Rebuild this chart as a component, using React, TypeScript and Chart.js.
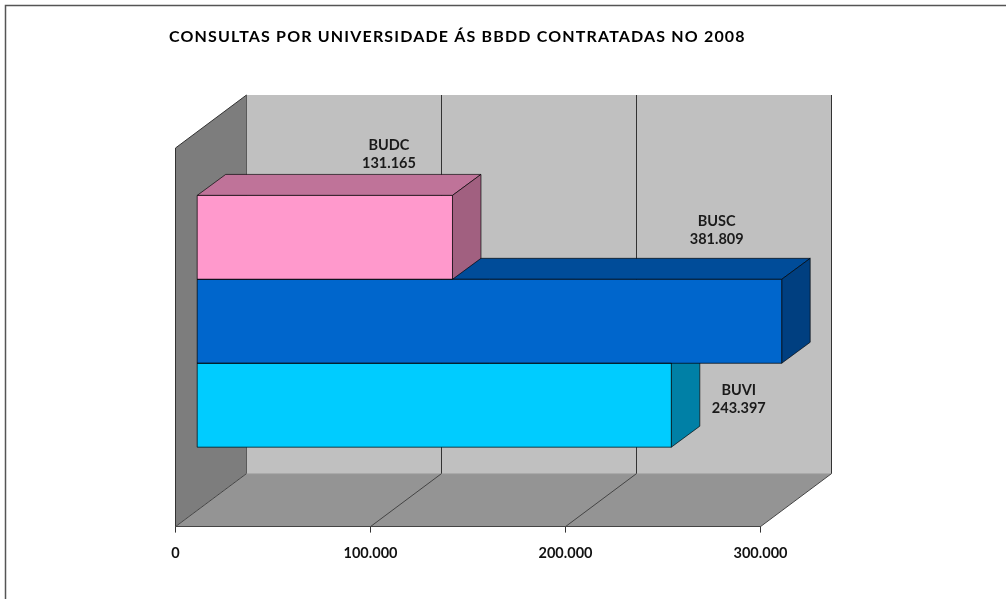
import React, { useEffect, useRef } from "react";
import { Chart, registerables } from "chart.js";

Chart.register(...registerables);

const titleText = "CONSULTAS POR UNIVERSIDADE ÁS BBDD CONTRATADAS NO 2008";
const categories = ["2008"];
const seriesNames = ["BUDC", "BUSC", "BUVI"];
const seriesValues = [131165, 381809, 243397];
const frontColors = ["#ff99cc", "#0066cc", "#00ccff"];
const topColors = ["#bf7399", "#004c99", "#0099bf"];
const sideColors = ["#a16080", "#003f80", "#0080a6"];
const labelOffsets = [
  [-63.5, -83],
  [-65, -90.5],
  [67.5, -6],
];

const FONT = "Lato, 'Open Sans', sans-serif";
const wallDepth = [71, -53];
const barShift = [21.2, -16];
const barDepth = [28.5, -21];

const fmt = (v: number) => String(v).replace(/\B(?=(\d{3})+(?!\d))/g, ".");

function poly(ctx: CanvasRenderingContext2D, pts: number[][], fill?: string, stroke?: string, lw = 1) {
  ctx.beginPath();
  pts.forEach((p, i) => (i ? ctx.lineTo(p[0], p[1]) : ctx.moveTo(p[0], p[1])));
  if (fill) {
    ctx.closePath();
    ctx.fillStyle = fill;
    ctx.fill();
  }
  if (stroke) {
    ctx.strokeStyle = stroke;
    ctx.lineWidth = lw;
    ctx.stroke();
  }
}

const scenePlugin = {
  id: "scene3d",
  afterLayout(chart: any) {
    const block = chart.titleBlock;
    block.left = 169;
    if (!block.__wrapped) {
      const original = block.draw.bind(block);
      block.draw = () => {
        (chart.ctx as any).letterSpacing = "1.17px";
        original();
        (chart.ctx as any).letterSpacing = "0px";
      };
      block.__wrapped = true;
    }
  },
  beforeDraw(chart: any) {
    const { ctx, chartArea: a, scales } = chart;
    const x = scales.x;
    const [dx, dy] = wallDepth;
    ctx.save();
    ctx.fillStyle = "#fff";
    ctx.fillRect(0, 0, chart.width, chart.height);
    poly(ctx, [[5.5, chart.height], [5.5, 5.5], [chart.width, 5.5]], undefined, "#555", 1.5);
    const L = a.left, R = a.right, T = a.top, B = a.bottom;
    poly(ctx, [[L + dx, T + dy], [R + dx, T + dy], [R + dx, B + dy], [L + dx, B + dy]], "#c0c0c0");
    poly(ctx, [[L, T], [L + dx, T + dy], [L + dx, B + dy], [L, B]], "#7d7d7d");
    poly(ctx, [[L, B], [L + dx, B + dy], [R + dx, B + dy], [R, B]], "#949494");
    poly(ctx, [[L, B], [L, T], [L + dx, T + dy]], undefined, "#333");
    poly(ctx, [[L + dx, T + dy], [L + dx, B + dy]], undefined, "#5a5a5a");
    poly(ctx, [[L + dx, B + dy], [R + dx, B + dy]], undefined, "#a8a8a8");
    x.ticks.forEach((t: any) => {
      const px = x.getPixelForValue(t.value);
      if (t.value > 0) poly(ctx, [[px + dx, T + dy], [px + dx, B + dy]], undefined, "#333");
      poly(ctx, [[px, B], [px + dx, B + dy]], undefined, "#444");
    });
    ctx.restore();
  },
  beforeDatasetsDraw(chart: any) {
    const { ctx, scales } = chart;
    ctx.save();
    ctx.translate(barShift[0], barShift[1]);
    const [dx, dy] = barDepth;
    for (let i = seriesValues.length - 1; i >= 0; i--) {
      const el = chart.getDatasetMeta(i).data[0];
      const end = Math.min(el.x, scales.x.right);
      const top = el.y - el.height / 2;
      const bottom = el.y + el.height / 2;
      const edge = "rgba(0,0,0,0.65)";
      poly(ctx, [[el.base, top], [el.base + dx, top + dy], [end + dx, top + dy], [end, top]], topColors[i], edge);
      poly(ctx, [[end, top], [end + dx, top + dy], [end + dx, bottom + dy], [end, bottom]], sideColors[i], edge);
    }
  },
  afterDatasetsDraw(chart: any) {
    const { ctx, scales } = chart;
    for (let i = 0; i < seriesValues.length; i++) {
      const el = chart.getDatasetMeta(i).data[0];
      const end = Math.min(el.x, scales.x.right);
      const top = el.y - el.height / 2;
      const bottom = el.y + el.height / 2;
      poly(ctx, [[el.base, top], [end, top], [end, bottom], [el.base, bottom], [el.base, top]], undefined, "rgba(0,0,0,0.7)");
    }
    ctx.fillStyle = "#1a1a1a";
    ctx.font = `bold 14.5px ${FONT}`;
    ctx.textAlign = "center";
    ctx.textBaseline = "middle";
    for (let i = 0; i < seriesValues.length; i++) {
      const el = chart.getDatasetMeta(i).data[0];
      const end = Math.min(el.x, scales.x.right);
      const cx = end + labelOffsets[i][0];
      const cy = el.y + labelOffsets[i][1];
      ctx.fillText(seriesNames[i], cx, cy - 9);
      ctx.fillText(fmt(seriesValues[i]), cx, cy + 9);
    }
    ctx.restore();
  },
};

export default function App() {
  const ref = useRef<HTMLCanvasElement>(null);
  useEffect(() => {
    const chart = new Chart(ref.current!, {
      type: "bar",
      data: {
        labels: categories,
        datasets: seriesNames.map((name, i) => ({
          label: name,
          data: [seriesValues[i]],
          backgroundColor: frontColors[i],
          borderWidth: 0,
          barPercentage: 1,
          categoryPercentage: 0.665,
          clip: 0,
        })),
      },
      options: {
        indexAxis: "y",
        animation: false,
        responsive: false,
        layout: { padding: { left: 175.5, right: 245.5, top: 27.5, bottom: 25 } },
        plugins: {
          legend: { display: false },
          tooltip: { enabled: false },
          title: {
            display: true,
            text: titleText,
            align: "start",
            color: "#000",
            font: { family: FONT, size: 16, weight: "bold", lineHeight: 1.2 },
            padding: { top: 0, bottom: 101.3 },
          },
        },
        scales: {
          x: {
            type: "linear",
            min: 0,
            max: 300000,
            ticks: {
              stepSize: 100000,
              padding: 12,
              color: "#111",
              maxRotation: 0,
              font: { family: FONT, size: 14.5, weight: "bold", lineHeight: 1.2 },
              callback: (v: any) => fmt(Number(v)),
            },
            grid: { drawOnChartArea: false, drawTicks: true, tickLength: 6, color: "#333" },
            border: { display: true, color: "#444", width: 1 },
          },
          y: { display: false },
        },
      } as any,
      plugins: [scenePlugin],
    } as any);
    return () => chart.destroy();
  }, []);
  return (
    <canvas
      ref={ref}
      width={1006}
      height={599}
      style={{ position: "absolute", left: 0, top: 0, display: "block", filter: "blur(0.4px)" }}
    />
  );
}
